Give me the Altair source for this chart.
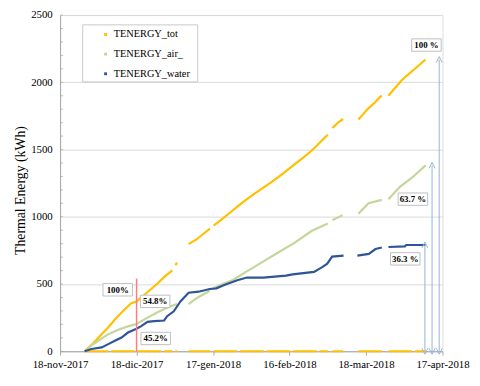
import altair as alt
import pandas as pd

# ---------------- data (x = days since 18-nov-2017, None = gap in logging) ----------------
series_names = ["TENERGY_tot", "TENERGY_air_", "TENERGY_water"]
series_colors = ["#FFC000", "#C3D69B", "#2F5597"]

tot_days = [9.6, 13, 16.3, 19, 21.5, 24.5, 27.9, 30, 34, 38.2, 41, 44, None,
            45.2, 45.9, None,
            50.4, 53.6, 56, 58.8, None,
            60.2, 63, 66.5, 69.5, 72.9, 76, 79.3, 82.5, 85.7, 89, 92.2, 95.5, 98.6, 100.5, 102.5, 105, None,
            106.8, 109, 111, None,
            117, 119, 121, 123.5, 125.6, 126.2, None,
            128.8, 131, 134, 136, 138.4, 141, 143.3]
tot_vals = [0, 60, 127, 180, 236, 295, 358, 370, 435, 504, 555, 602, None,
            640, 658, None,
            797, 833, 870, 912, None,
            935, 975, 1028, 1075, 1126, 1168, 1211, 1252, 1296, 1345, 1394, 1442, 1491, 1525, 1564, 1610, None,
            1660, 1700, 1727, None,
            1723, 1765, 1808, 1850, 1893, 1900, None,
            1900, 1950, 2015, 2050, 2088, 2130, 2169]

air_days = [9.6, 12, 15, 18.9, 22.8, 26.6, 30, 34.3, 38.2, 43.3, 45.9, None,
            50.4, 54, 58.7, None,
            60.2, 63, 67.8, 72.9, 79.3, 85.7, 92.2, 98.6, 105, None,
            106.8, 110.8, None,
            117, 121, 126.2, None,
            128.8, 133.3, 138.4, 143.3]
air_vals = [0, 40, 78, 127, 160, 185, 203, 250, 290, 335, 351, None,
            351, 400, 450, None,
            470, 495, 530, 590, 663, 736, 809, 894, 950, None,
            975, 1011, None,
            1023, 1101, 1126, None,
            1131, 1223, 1296, 1382]

water_days = [9.6, 12.3, 16.3, 18.9, 21.5, 24.1, 26.6, 30, 31.8, 34.3, 36.9, 40.8, 42, 44.6, 47.2,
              50.4, 54.3, 58.7, 61.3, 64.4, 69.5, 73.3, 79.7, 88.6, 91.2, 99.6, 102.8, 104.8,
              106.7, 111.2, None,
              116.6, 121.1, 123.7, 126.2, None,
              128.8, 135.2, 135.8, 143.3]
water_vals = [0, 17, 29, 53, 78, 102, 139, 167, 187, 219, 224, 229, 261, 297, 370,
              435, 443, 463, 468, 492, 528, 548, 548, 562, 572, 590, 626, 651,
              704, 711, None,
              711, 724, 760, 772, None,
              775, 780, 790, 790]

# zero-level yellow trace along the x axis (same logging gaps)
zero_days = [9.6, 44, None, 45.2, 45.9, None, 50.4, 58.8, None, 60.2, 105, None,
             106.8, 111, None, 117, 126.2, None, 128.8, 143.3]

tick_values = [0, 30, 60, 90, 120, 150]
tick_labels = ["18-nov-2017", "18-dic-2017", "17-gen-2018", "16-feb-2018", "18-mar-2018", "17-apr-2018"]
y_major = [0, 500, 1000, 1500, 2000, 2500]
y_minor = list(range(0, 2501, 100))

marker_day = [30]
marker_top = [540]

arrow_days = [143.1, 145.9, 148.7]
arrow_tops = [790, 1382, 2169]

ann_labels = ["100%", "54.8%", "45.2%", "100 %", "63.7 %", "36.3 %"]
ann_days = [22.6, 37.3, 37.5, 143.7, 138.4, 135.4]
ann_vals = [457, 371, 95, 2277, 1131, 687]

# ---------------- build tables ----------------
def build(name, days, vals):
    rows, seg = [], 0
    for d, v in zip(days, vals):
        if d is None:
            seg += 1
            continue
        rows.append({"series": name, "day": d, "kwh": v, "seg": f"{name}-{seg}"})
    return rows

rows = (build(series_names[0], tot_days, tot_vals)
        + build(series_names[1], air_days, air_vals)
        + build(series_names[2], water_days, water_vals))
lines_df = pd.DataFrame(rows)
lines_df["order"] = lines_df["series"].map({n: i for i, n in enumerate(series_names)})

zero_df = pd.DataFrame(build("zero", zero_days, [0 if d is not None else None for d in zero_days]))

marker_df = pd.DataFrame({"day": marker_day, "y0": [0] * len(marker_day), "y1": marker_top})
arrow_df = pd.DataFrame({"day": arrow_days, "y0": [0] * len(arrow_days), "y1": arrow_tops})
ann_df = pd.DataFrame({"label": ann_labels, "day": ann_days, "kwh": ann_vals})
minor_df = pd.DataFrame({"day": [0] * len(y_minor), "kwh": y_minor})

SERIF = "Liberation Serif"
label_expr = "[" + ",".join(f"'{t}'" for t in tick_labels) + "][round(datum.value/30)]"

x_scale = alt.Scale(domain=[0, 150], nice=False, zero=False)
y_scale = alt.Scale(domain=[0, 2500], nice=False, zero=False)

x_enc = alt.X("day:Q", scale=x_scale, axis=alt.Axis(
    values=tick_values, labelExpr=label_expr, title=None, grid=False,
    labelFont=SERIF, labelFontSize=11, labelColor="#000000", labelPadding=4,
    labelFlush=False, labelOverlap=False,
    tickSize=4, tickColor="#A6A6A6", domainColor="#A6A6A6"))

y_enc = alt.Y("kwh:Q", scale=y_scale, axis=alt.Axis(
    values=y_major, format="d", labelOverlap=False, labelFlush=False,
    title="Thermal Energy (kWh)", titleFont=SERIF, titleFontSize=14, titleFontWeight="normal",
    titleColor="#000000", titlePadding=3, titleY=178,
    labelFont=SERIF, labelFontSize=11, labelColor="#000000", labelPadding=8,
    tickSize=0, domainColor="#A6A6A6", gridColor="#D9D9D9"))

legend_box = alt.Chart(pd.DataFrame({"k": [0]})).mark_rect(
    fill="white", stroke="#C8C8C8", strokeWidth=1).encode(
    x=alt.value(23), x2=alt.value(140), y=alt.value(10), y2=alt.value(68))

minor_ticks = alt.Chart(minor_df).mark_tick(color="#A6A6A6", orient="horizontal", size=3, thickness=1, xOffset=1.5).encode(
    x=alt.X("day:Q", scale=x_scale), y=alt.Y("kwh:Q", scale=y_scale))

zero_line = alt.Chart(zero_df).mark_line(color="#FFC000", strokeWidth=2, strokeDash=[24, 3]).encode(
    x=x_enc, y=y_enc, detail="seg:N")

lines = alt.Chart(lines_df).mark_line(strokeWidth=2.2).encode(
    x=x_enc, y=y_enc,
    color=alt.Color("series:N", scale=alt.Scale(domain=series_names, range=series_colors),
                    legend=alt.Legend(title=None, orient="none", legendX=41, legendY=14.5,
                                      symbolType="square", symbolSize=2, symbolStrokeWidth=1.5,
                                      labelFont=SERIF, labelFontSize=10.5, labelColor="#000000",
                                      rowPadding=9, labelOffset=3, padding=0)),
    detail="seg:N", order="order:Q")

marker = alt.Chart(marker_df).mark_rule(color="#FF7C80", strokeWidth=1.5).encode(
    x=alt.X("day:Q", scale=x_scale), y=alt.Y("y0:Q", scale=y_scale), y2="y1:Q")

arrows = alt.Chart(arrow_df).mark_rule(color="#95B3D7", strokeWidth=1).encode(
    x=alt.X("day:Q", scale=x_scale), y=alt.Y("y0:Q", scale=y_scale), y2="y1:Q")
arrow_top = alt.Chart(arrow_df).mark_point(
    shape="M-1,1L0,-1L1,1", size=36, filled=False, color="#95B3D7", strokeWidth=1, opacity=1).encode(
    x=alt.X("day:Q", scale=x_scale), y=alt.Y("y1:Q", scale=y_scale))
arrow_bot = alt.Chart(arrow_df).mark_point(
    shape="M-1,-1L0,1L1,-1", size=36, filled=False, color="#95B3D7", strokeWidth=1, opacity=1).encode(
    x=alt.X("day:Q", scale=x_scale), y=alt.Y("y0:Q", scale=y_scale))

ann_box = alt.Chart(ann_df).mark_point(
    shape="M-1,-0.42L1,-0.42L1,0.42L-1,0.42Z", size=900, filled=True, fill="white",
    stroke="#BFBFBF", strokeWidth=1, opacity=1, fillOpacity=1).encode(
    x=alt.X("day:Q", scale=x_scale), y=alt.Y("kwh:Q", scale=y_scale))
ann_text = alt.Chart(ann_df).mark_text(font=SERIF, fontSize=9, fontWeight="bold", color="#000000").encode(
    x=alt.X("day:Q", scale=x_scale), y=alt.Y("kwh:Q", scale=y_scale), text="label:N")

chart = alt.layer(legend_box, zero_line, lines, minor_ticks, marker, arrows, arrow_top, arrow_bot, ann_box, ann_text).properties(
    width=389, height=342,
    autosize=alt.AutoSizeParams(type="none"),
    padding={"left": 53, "top": 4, "right": 30, "bottom": 22},
).configure_view(stroke="#D9D9D9").configure(background="white")

chart.save("out.html", embed_options={"renderer": "svg", "actions": False})
